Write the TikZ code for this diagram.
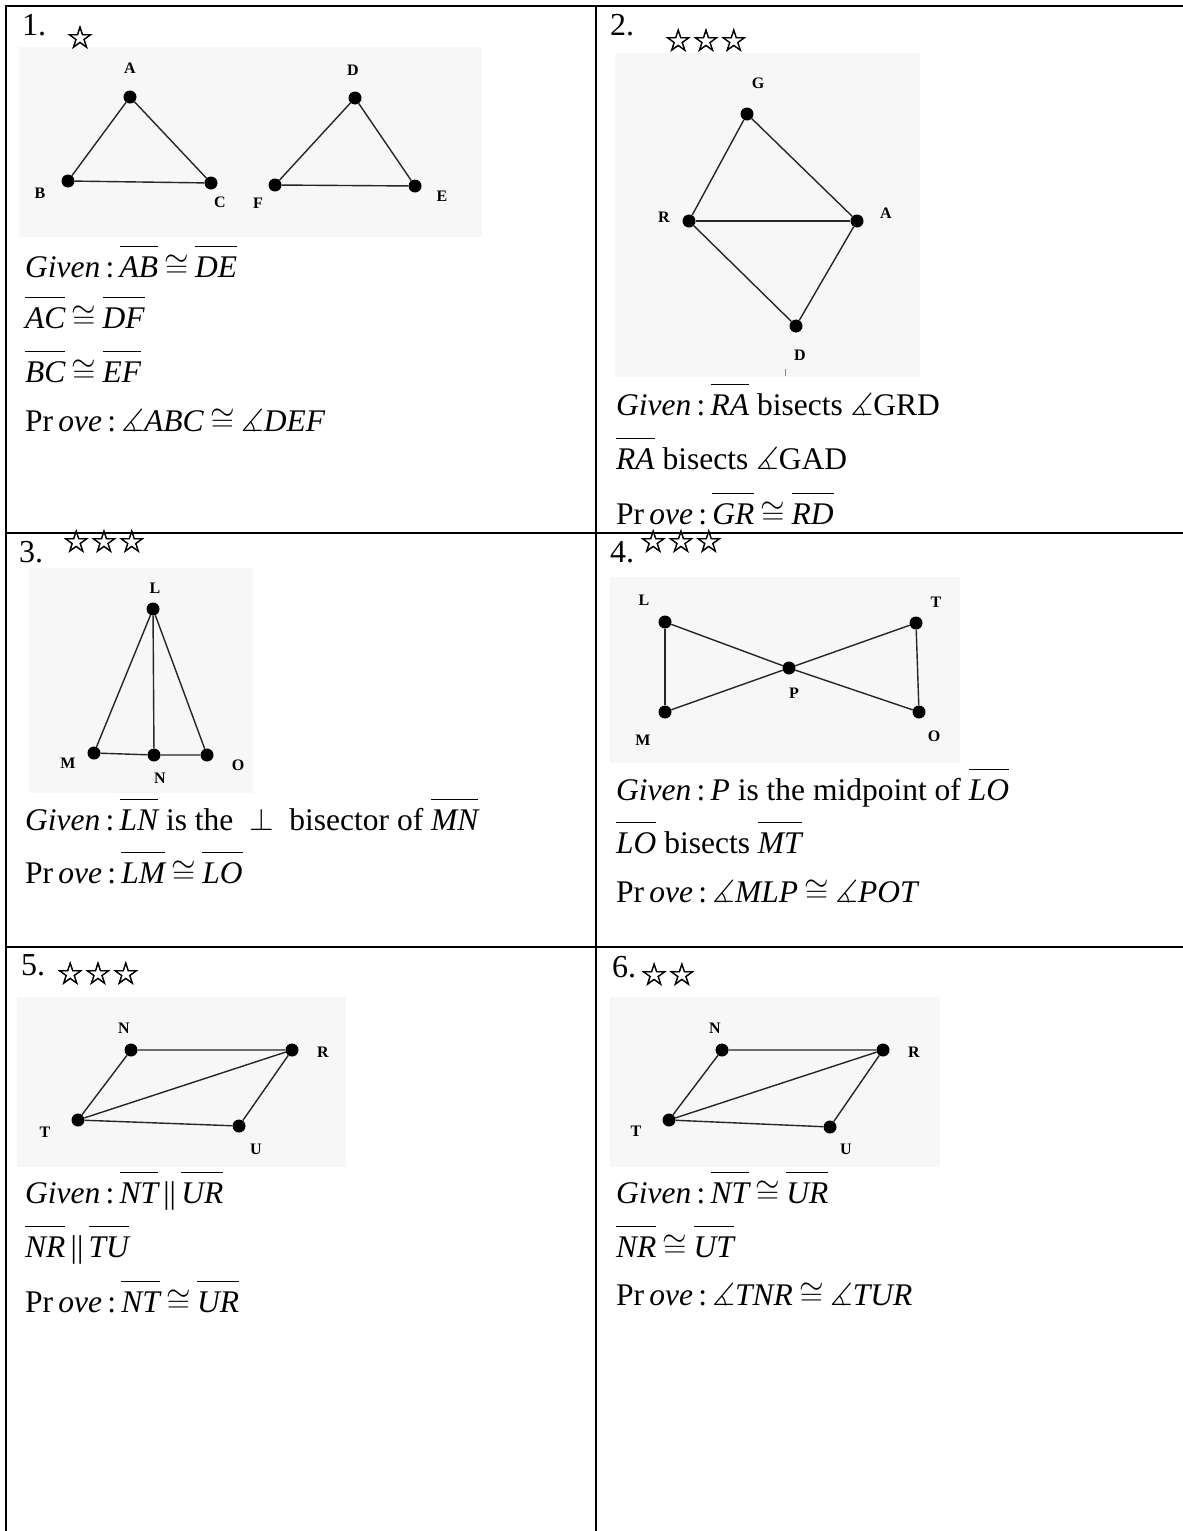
\RequirePackage{fix-cm}
\documentclass[tikz,border=0pt]{standalone}
\usepackage{amssymb}
\usepackage{fontspec}
\setmainfont{Liberation Serif}
\newfontfamily\starfont[FakeBold=1.6]{DejaVu Sans}

\newcommand{\seg}[1]{$\overline{\mbox{\itshape\rule{0pt}{0.83em}#1}}$}
\newcommand{\cng}{\hspace{0.2em}$\cong$\hspace{0.2em}}
\newcommand{\mang}{$\measuredangle$}
\newcommand{\given}{\textit{Given}\,:\,}
\newcommand{\prove}{Pr\,\textit{ove}\,:\,}

\begin{document}
\begin{tikzpicture}[
  x=1pt, y=-1pt,
  frame/.style={line width=2.2pt},
  imgbg/.style={fill=black!3},
  edge/.style={line width=1.4pt, black!85},
  dot/.style={circle, fill, inner sep=0pt, minimum size=13pt},
  lbl/.style={font=\fontsize{16}{16}\selectfont\bfseries, inner sep=0pt},
  num/.style={font=\fontsize{32}{32}\selectfont, anchor=base west, inner sep=0pt},
  txt/.style={font=\fontsize{31.5}{32}\selectfont, anchor=base west, inner sep=0pt},
  stars/.style={font=\starfont\fontsize{31}{31}\selectfont, inner sep=0pt}
]
\useasboundingbox (0,0) rectangle (1183,1531);

% ---- table frame ----
\draw[frame] (6,1531) -- (6,6) -- (1183,6);
\draw[frame] (596,6) -- (596,1531);
\draw[frame] (6,533) -- (1183,533);
\draw[frame] (6,947) -- (1183,947);

% ---- CELL 1: two triangles ----
\fill[imgbg] (19,47) rectangle (482,237);
\node[num] (n1) at (22,35) {1.};
\node[stars] (s1) at (80,37) {☆};
\node[dot] (A1) at (130,97) {};
\node[dot] (B1) at (68,181) {};
\node[dot] (C1) at (211,183) {};
\node[dot] (D1) at (355,98) {};
\node[dot] (F1) at (275,185) {};
\node[dot] (E1) at (415,186) {};
\draw[edge] (A1) -- (B1) -- (C1) -- (A1);
\draw[edge] (D1) -- (F1) -- (E1) -- (D1);
\node[lbl] (lA1) at (130,68) {A};
\node[lbl] (lB1) at (40,193) {B};
\node[lbl] (lC1) at (220,202) {C};
\node[lbl] (lD1) at (353,70) {D};
\node[lbl] (lF1) at (258,203) {F};
\node[lbl] (lE1) at (442,196) {E};
\node[txt] (g1a) at (25,277) {\given\seg{AB}\cng\seg{DE}};
\node[txt] (g1b) at (25,328) {\seg{AC}\cng\seg{DF}};
\node[txt] (g1c) at (25,382) {\seg{BC}\cng\seg{EF}};
\node[txt] (p1)  at (25,431) {\prove\mang\textit{ABC}\cng\mang\textit{DEF}};

% ---- CELL 2: kite ----
\fill[imgbg] (615,53) rectangle (920,377);
\node[num] (n2) at (610,35) {2.};
\node[stars] (s2) at (706,40) {☆☆☆};
\node[dot] (G2) at (747,114) {};
\node[dot] (R2) at (689,221) {};
\node[dot] (A2) at (857,221) {};
\node[dot] (D2) at (796,326) {};
\draw[edge] (G2) -- (R2) -- (D2) -- (A2) -- (G2);
\draw[edge] (R2) -- (A2);
\node[lbl] (lG2) at (758,83) {G};
\node[lbl] (lR2) at (664,217) {R};
\node[lbl] (lA2) at (886,213) {A};
\node[lbl] (lD2) at (800,355) {D};
\draw[blue!55, line width=1pt] (785,369) -- (785,376);
\node[txt] (g2a) at (616,415) {\given\seg{RA} bisects \mang GRD};
\node[txt] (g2b) at (616,469) {\seg{RA} bisects \mang GAD};
\node[txt] (p2)  at (616,524) {\prove\seg{GR}\cng\seg{RD}};

% ---- CELL 3: isosceles triangle ----
\fill[imgbg] (29,568) rectangle (253,793);
\node[num] (n3) at (19,562) {3.};
\node[stars] (s3) at (104,541) {☆☆☆};
\node[dot] (L3) at (153,609) {};
\node[dot] (M3) at (94,753) {};
\node[dot] (N3) at (154,755) {};
\node[dot] (O3) at (207,755) {};
\draw[edge] (M3) -- (L3) -- (O3);
\draw[edge] (L3) -- (N3);
\draw[edge] (M3) -- (N3) -- (O3);
\node[lbl] (lL3) at (155,588) {L};
\node[lbl] (lM3) at (68,763) {M};
\node[lbl] (lN3) at (160,778) {N};
\node[lbl] (lO3) at (238,765) {O};
\node[txt] (g3) at (25,830) {\given\seg{LN} is the\enspace$\perp$\enspace bisector of \seg{MN}};
\node[txt] (p3) at (25,883) {\prove\seg{LM}\cng\seg{LO}};

% ---- CELL 4: bow tie ----
\fill[imgbg] (610,577) rectangle (960,763);
\node[num] (n4) at (610,562) {4.};
\node[stars] (s4) at (681,541) {☆☆☆};
\node[dot] (L4) at (665,622) {};
\node[dot] (M4) at (665,712) {};
\node[dot] (T4) at (916,623) {};
\node[dot] (O4) at (919,712) {};
\node[dot] (P4) at (789,668) {};
\draw[edge] (L4) -- (M4);
\draw[edge] (T4) -- (O4);
\draw[edge] (L4) -- (P4) -- (O4);
\draw[edge] (M4) -- (P4) -- (T4);
\node[lbl] (lL4) at (644,600) {L};
\node[lbl] (lM4) at (643,740) {M};
\node[lbl] (lT4) at (936,602) {T};
\node[lbl] (lO4) at (934,736) {O};
\node[lbl] (lP4) at (794,693) {P};
\node[txt] (g4a) at (616,800) {\given\textit{P} is the midpoint of \seg{LO}};
\node[txt] (g4b) at (616,853) {\seg{LO} bisects \seg{MT}};
\node[txt] (p4)  at (616,902) {\prove\mang\textit{MLP}\cng\mang\textit{POT}};

% ---- CELL 5: parallelogram ----
\fill[imgbg] (17,997) rectangle (346,1167);
\node[num] (n5) at (21,975) {5.};
\node[stars] (s5) at (98,973) {☆☆☆};
\node[dot] (N5) at (131,1050) {};
\node[dot] (R5) at (292,1050) {};
\node[dot] (T5) at (78,1120) {};
\node[dot] (U5) at (239,1126) {};
\draw[edge] (N5) -- (R5) -- (U5) -- (T5) -- (N5);
\draw[edge] (T5) -- (R5);
\node[lbl] (lN5) at (124,1028) {N};
\node[lbl] (lR5) at (323,1052) {R};
\node[lbl] (lT5) at (45,1132) {T};
\node[lbl] (lU5) at (256,1149) {U};
\node[txt] (g5a) at (25,1203) {\given\seg{NT}\,||\,\seg{UR}};
\node[txt] (g5b) at (25,1257) {\seg{NR}\,||\,\seg{TU}};
\node[txt] (p5)  at (25,1312) {\prove\seg{NT}\cng\seg{UR}};

% ---- CELL 6: parallelogram ----
\fill[imgbg] (610,997) rectangle (940,1167);
\node[num] (n6) at (612,977) {6.};
\node[stars] (s6) at (668,974) {☆☆};
\node[dot] (N6) at (722,1050) {};
\node[dot] (R6) at (883,1050) {};
\node[dot] (T6) at (669,1120) {};
\node[dot] (U6) at (830,1127) {};
\draw[edge] (N6) -- (R6) -- (U6) -- (T6) -- (N6);
\draw[edge] (T6) -- (R6);
\node[lbl] (lN6) at (715,1028) {N};
\node[lbl] (lR6) at (914,1052) {R};
\node[lbl] (lT6) at (636,1131) {T};
\node[lbl] (lU6) at (846,1149) {U};
\node[txt] (g6a) at (616,1203) {\given\seg{NT}\cng\seg{UR}};
\node[txt] (g6b) at (616,1257) {\seg{NR}\cng\seg{UT}};
\node[txt] (p6)  at (616,1305) {\prove\mang\textit{TNR}\cng\mang\textit{TUR}};
\end{tikzpicture}
\end{document}
